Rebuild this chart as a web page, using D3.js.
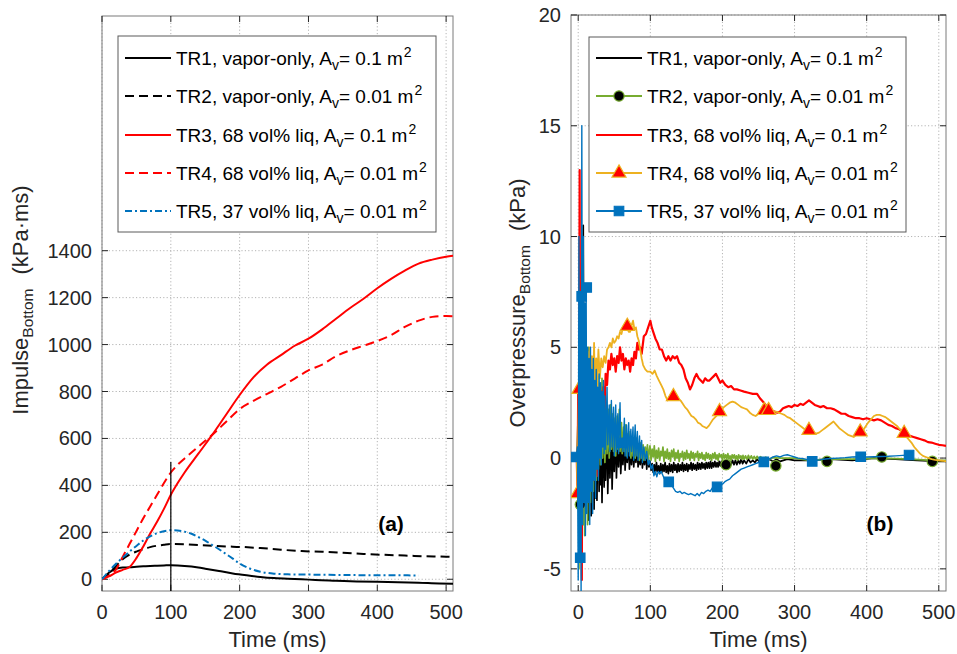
<!DOCTYPE html>
<html>
<head>
<meta charset="utf-8">
<script src="https://cdn.jsdelivr.net/npm/d3@7"></script>
<style>
  body { margin: 0; background: #fff; }
  text { font-family: "Liberation Sans", Arial, Helvetica, sans-serif; }
</style>
</head>
<body>
<svg id="fig" width="957" height="654"></svg>
<script>
// ---------- panel (a): impulse, kPa*ms ----------
const tr1T = [0,10,20,30,40,50,60,70,80,90,100,110,120,130,140,150,170,190,210,230,250,270,290,310,340,370,400,430,460,490,510]
const tr1V = [0,28,45,50,51,53,55,57,58,59,60,59,57,54,50,45,35,25,17,10,5,2,0,-3,-6,-9,-11,-13,-15,-18,-19]

const tr2T = [0,10,20,30,40,50,60,70,80,90,100,120,140,160,180,200,230,260,290,320,350,380,410,440,470,500,510]
const tr2V = [0,25,55,85,105,118,128,137,143,147,150,149,146,143,140,138,133,126,120,117,113,108,104,101,98,96,95]

const tr3T = [0,10,20,30,40,50,60,70,80,90,100,110,120,140,160,180,200,220,240,260,280,300,320,340,360,380,400,420,440,460,480,500,510]
const tr3V = [0,12,28,40,52,90,140,195,245,300,360,410,455,535,615,700,785,860,915,955,995,1025,1065,1110,1155,1195,1240,1280,1315,1345,1362,1374,1378]

const tr4T = [0,10,20,30,40,50,60,70,80,90,100,110,120,130,140,150,160,180,200,220,240,260,280,300,320,340,360,380,400,420,440,460,480,500,510]
const tr4V = [0,15,40,95,150,205,260,310,360,410,455,488,515,540,565,590,615,670,725,760,790,820,855,890,915,950,975,995,1015,1040,1075,1102,1118,1122,1121]

const tr5T = [0,10,20,30,40,50,60,70,80,90,100,110,120,130,140,150,160,170,180,190,200,210,220,230,240,250,270,300,330,360,400,430,460]
const tr5V = [0,35,65,92,118,142,165,183,196,205,209,208,203,194,180,165,146,128,108,88,67,52,40,32,27,24,21,20,19,18,17,17,16]

// thin marker line at t = 100 ms
const refT = [100, 100]
const refV = [-50, 500]

const impXTicks = [0,100,200,300,400,500]
const impYTicks = [0,200,400,600,800,1000,1200,1400]

// ---------- panel (b): overpressure, kPa  [t ms, p kPa] ----------
const op1Early = [[-10,0],[-2,0],[0,-1],[1,4],[2,-4],[3,6],[4,-3],[5,9],[6,-2],[7,10.5],[8,-1.5],[9,6],[10,-2.5],[11,5],[12,-1],[13,4],[14,-2.8],[15,3.5],[16,-2],[17,3],[18,-2.6],[19,2.5],[20,-1.5],[21,3],[22,-2.3],[23,2.2],[24,-1.8],[25,2.5],[26,-1.9],[27,1.2],[28,2],[29,-1.5],[30,2.6],[31,-1.2],[32,1.6],[33,-2],[34,0.4],[35,1.5],[36,-1.3],[37,1.8],[38,-1.0],[39,0.6],[40,2.0],[41,-1.6],[42,0.2],[43,1.4],[44,-0.9],[45,0.5],[46,1.2],[47,-1.4],[48,0.1],[49,1.0],[50,-0.6],[51,0.4],[52,1.3],[53,-0.9],[54,0.2],[55,0.9],[56,-0.4],[57,0.5],[58,1.0],[59,-0.7],[60,0.1],[61,0.8],[62,-0.3],[63,0.3],[64,1.1],[65,-0.55],[66,0.1],[67,0.7],[68,-0.2],[69,0.2],[70,0.9],[71,-0.5],[72,0],[73,0.5],[74,-0.3],[75,0.2],[76,0.7],[77,-0.4],[78,0.1],[79,0.4],[80,-0.2],[81,0.1],[82,0.5],[83,-0.4],[84,-0.1],[85,0.3],[86,-0.3],[87,0],[88,0.35],[89,-0.45],[90,-0.1],[91,0.2],[92,-0.3],[93,0],[94,0.25],[95,-0.5],[96,-0.1],[97,0.1],[98,-0.4]]
const op1Mid = [[99.5,-0.15],[101,-0.55],[102.5,-0.25],[104,-0.65],[105.5,-0.3],[107,-0.7],[108.5,-0.2],[110,-0.6],[111.5,-0.35],[113,-0.7],[114.5,-0.25],[116,-0.65],[117.5,-0.3],[119,-0.6],[120.5,-0.2],[122,-0.65],[123.5,-0.35],[125,-0.7],[126.5,-0.25],[128,-0.6],[129.5,-0.3],[131,-0.65],[132.5,-0.2],[134,-0.55],[135.5,-0.3],[137,-0.65],[138.5,-0.25],[140,-0.6],[141.5,-0.3],[143,-0.55],[144.5,-0.2],[146,-0.6],[147.5,-0.3],[149,-0.55],[150.5,-0.25],[152,-0.6],[153.5,-0.3],[155,-0.5],[156.5,-0.2],[158,-0.55],[159.5,-0.25],[161,-0.5],[162.5,-0.3],[164,-0.55],[165.5,-0.2],[167,-0.5],[168.5,-0.25],[170,-0.5],[171.5,-0.2],[173,-0.45],[174.5,-0.25],[176,-0.5],[177.5,-0.2],[179,-0.45],[180.5,-0.2],[182,-0.45],[183.5,-0.15],[185,-0.45],[186.5,-0.2],[188,-0.4],[189.5,-0.15],[191,-0.4],[192.5,-0.2],[194,-0.4],[195.5,-0.15],[197,-0.35],[198.5,-0.15],[200,-0.4],[202,-0.15],[204,-0.35],[206,-0.1],[208,-0.35],[210,-0.15],[212,-0.3],[214,-0.1],[216,-0.3],[218,-0.1],[220,-0.3],[222,-0.1],[224,-0.25],[226,-0.05],[228,-0.25],[230,-0.1],[233,-0.25],[236,-0.05],[239,-0.2],[242,-0.1],[245,-0.2],[248,-0.05]]
const op1Late = [[252,-0.2],[256,-0.05],[260,-0.2],[265,-0.05],[270,-0.15],[275,-0.05],[280,-0.15],[290,-0.05],[300,-0.1],[320,-0.1],[350,-0.05],[380,-0.1],[410,0],[440,-0.05],[470,-0.1],[500,-0.15],[510,-0.15]]
const op1 = op1Early.concat(op1Mid, op1Late)

const op2Early = [[-10,0],[-2,0],[0,2],[1,-5],[2,5],[3,-2],[4,8],[5,-4],[6,9],[7,-3],[8,6],[9,-3.5],[10,5.5],[11,-2],[12,4],[13,-3],[14,5],[15,-1.5],[16,4.5],[17,-2],[18,3.5],[19,-1],[20,4],[21,-1.5],[22,3],[23,-0.8],[24,3.5],[25,-1],[26,1.5],[27,3.7],[28,-0.5],[29,1.2],[30,3],[31,-0.3],[32,1.4],[33,3.6],[34,0],[35,1.1],[36,2.8],[37,-0.2],[38,1.2],[39,2.5],[40,0.2],[41,1.0],[42,2.2],[43,0],[44,1.1],[45,2.4],[46,0.4],[47,1.2],[48,2],[49,0.3],[50,0.9],[51,1.8],[52,0.1],[53,1.0],[54,1.9],[55,0.4],[56,1.1],[57,2.2],[58,0.3],[59,0.9],[60,1.6],[61,0.2],[62,0.7],[63,1.4],[64,0.3],[65,0.8],[66,1.5],[67,0.1],[68,0.6],[69,1.1],[70,0.3],[71,0.6],[72,1.2],[73,0],[74,0.5],[75,0.9],[76,0.1],[77,0.4],[78,0.8],[79,0],[80,0.5],[81,0.9],[82,0.1],[83,0.3],[84,0.6],[85,-0.1],[86,0.3],[87,0.7],[88,0],[89,0.2],[90,0.6],[91,-0.1],[92,0.2],[93,0.5],[94,0],[95,0.3],[96,0.6],[97,-0.1],[98,0.2]]
const op2Mid = [[99.5,0.55],[101,-0.1],[102.5,0.4],[104,0.05],[105.5,0.55],[107,-0.15],[108.5,0.35],[110,0],[111.5,0.45],[113,-0.1],[114.5,0.3],[116,0.1],[117.5,0.5],[119,-0.15],[120.5,0.3],[122,0],[123.5,0.4],[125,-0.05],[126.5,0.25],[128,-0.15],[129.5,0.35],[131,0.05],[132.5,0.4],[134,-0.1],[135.5,0.25],[137,0],[138.5,0.35],[140,-0.15],[141.5,0.2],[143,0.05],[144.5,0.3],[146,-0.1],[147.5,0.25],[149,-0.05],[150.5,0.35],[152,0],[153.5,0.2],[155,-0.1],[156.5,0.3],[158,0],[159.5,0.25],[161,-0.1],[162.5,0.2],[164,0.05],[165.5,0.3],[167,-0.1],[168.5,0.2],[170,0],[171.5,0.25],[173,-0.05],[174.5,0.15],[176,-0.1],[177.5,0.25],[179,0],[180.5,0.2],[182,-0.05],[183.5,0.15],[185,-0.1],[186.5,0.2],[188,0],[189.5,0.25],[191,-0.05],[192.5,0.15],[194,-0.1],[195.5,0.2],[197,0.05],[198.5,0.15],[200,-0.1],[201.5,0.2],[203,0],[204.5,0.15],[206,-0.05],[207.5,0.2],[209,-0.05],[210.5,0.1],[212,-0.1],[213.5,0.15],[215,0],[216.5,0.15],[218,-0.05],[219.5,0.1],[221,-0.1],[222.5,0.15],[224,0],[225.5,0.1],[227,-0.05],[228.5,0.12],[230,-0.05],[232,0.1],[234,-0.05],[236,0.12],[238,-0.03],[240,0.1],[242,-0.05],[244,0.08],[246,-0.05],[248,0.08]]
const op2Late = [[250,-0.03],[253,0.06],[256,-0.04],[260,0.04],[265,-0.05],[270,0.02],[280,0],[300,0],[320,-0.1],[350,-0.05],[380,-0.05],[420,0],[460,-0.05],[490,-0.1],[510,-0.1]]
const op2 = op2Early.concat(op2Mid, op2Late)
const op2Marks = [[3,-2.1],[205,-0.3],[274,-0.35],[345,-0.15],[421,0.05],[491,-0.15]]

const op3 = [[-10,0],[-2,0],[-1,-1.5],[0,3],[1,-2],[2,13],[3,-4.5],[4,5],[5,-5.5],[6,7.5],[7,-1],[8,4],[9,-1.5],[10,4.5],[11,0],[12,3],[14,-1],[15,4],[16,0],[18,3.5],[19,-0.5],[20,2.5],[21,-1],[23,3],[24,0],[26,2.8],[27,-0.8],[29,2.5],[30,0.5],[32,3],[33,0.8],[35,3.2],[36,1.5],[38,3.8],[40,3.3],[42,4.4],[44,4.0],[46,4.7],[48,4.2],[50,4.5],[52,3.9],[54,4.6],[56,4.3],[58,5.0],[60,4.4],[62,4.7],[64,4.0],[66,4.5],[68,4.2],[70,4.4],[72,3.9],[74,4.5],[76,4.2],[78,4.8],[80,4.5],[82,5.2],[84,4.9],[86,5.0],[88,4.7],[91,5.5],[94,5.6],[97,5.9],[100,6.2],[102,5.9],[104,5.7],[107,5.4],[110,5.2],[113,4.9],[116,4.9],[119,4.6],[122,4.4],[125,4.6],[128,4.4],[131,4.6],[134,4.5],[137,4.6],[140,4.3],[143,4.2],[146,4.0],[149,3.6],[152,3.4],[155,3.1],[158,3.3],[161,3.6],[164,3.8],[167,3.6],[170,3.5],[173,3.4],[176,3.6],[179,3.5],[182,3.5],[185,3.6],[188,3.7],[191,3.8],[194,3.6],[197,3.4],[200,3.5],[204,3.3],[208,3.2],[212,3.25],[216,3.1],[220,3.1],[225,3.05],[230,3.0],[236,2.95],[242,2.9],[248,2.9],[252,2.7],[256,2.55],[260,2.4],[264,2.2],[268,2.15],[272,2.1],[276,2.05],[280,2.1],[284,2.25],[288,2.3],[292,2.35],[296,2.3],[300,2.4],[304,2.35],[308,2.45],[312,2.4],[316,2.5],[320,2.6],[324,2.5],[328,2.4],[332,2.35],[336,2.3],[340,2.35],[345,2.25],[350,2.25],[355,2.2],[360,2.1],[365,2.0],[370,2.0],[375,1.9],[380,1.85],[385,1.8],[390,1.8],[395,1.75],[400,1.8],[405,1.75],[410,1.7],[415,1.75],[420,1.7],[425,1.6],[430,1.5],[435,1.45],[440,1.35],[445,1.3],[450,1.2],[455,1.1],[460,1.0],[465,0.95],[470,0.9],[475,0.85],[480,0.8],[485,0.72],[490,0.7],[495,0.65],[500,0.6],[505,0.58],[510,0.55]]

const op4 = [[-10,0],[-2,0],[-1,-1.6],[0,1],[1,3.1],[2,-1],[3,5],[4,0],[5,6],[6,-0.5],[7,4.5],[8,0.5],[10,5],[11,1],[13,4.8],[14,1.5],[16,5],[17,2],[19,4.6],[20,2.2],[22,5.2],[23,3],[25,4.5],[26,3],[28,4.9],[30,3.6],[32,4.5],[34,4.1],[36,4.6],[38,4.3],[40,4.9],[42,5.0],[44,5.2],[46,5.0],[48,5.4],[50,5.2],[52,5.3],[54,5.5],[56,5.4],[58,5.7],[60,5.6],[62,5.9],[64,5.8],[66,6.1],[68,5.9],[70,5.7],[72,5.7],[74,6.0],[76,6.2],[78,5.8],[80,5.9],[82,5.5],[84,5.3],[86,4.9],[88,4.5],[90,4.2],[93,4.0],[96,3.9],[100,3.9],[103,3.8],[106,3.95],[109,3.7],[112,3.5],[115,3.3],[118,3.1],[121,2.8],[124,2.6],[127,2.7],[130,2.8],[133,2.8],[136,2.7],[139,2.65],[142,2.6],[145,2.45],[148,2.3],[151,2.2],[154,2.05],[157,1.9],[160,1.85],[163,1.75],[166,1.6],[169,1.55],[172,1.45],[175,1.4],[178,1.35],[181,1.45],[184,1.6],[187,1.75],[190,1.85],[193,1.95],[196,2.1],[199,2.2],[202,2.3],[206,2.4],[210,2.5],[214,2.55],[218,2.5],[222,2.4],[226,2.3],[230,2.25],[234,2.2],[238,2.05],[242,1.95],[246,1.9],[250,2.0],[254,2.1],[258,2.15],[262,2.15],[266,2.15],[270,2.1],[274,2.1],[278,2.05],[282,2.0],[286,1.95],[290,1.85],[294,1.8],[298,1.7],[302,1.6],[306,1.5],[310,1.4],[314,1.3],[318,1.25],[322,1.2],[326,1.15],[330,1.1],[334,1.15],[338,1.25],[342,1.35],[346,1.45],[350,1.55],[354,1.65],[358,1.5],[362,1.35],[366,1.25],[370,1.15],[374,1.05],[378,1.0],[382,0.95],[386,1.05],[390,1.15],[394,1.2],[398,1.4],[402,1.6],[406,1.75],[410,1.9],[414,1.95],[418,1.95],[422,1.9],[426,1.85],[430,1.75],[434,1.65],[438,1.55],[442,1.45],[446,1.3],[450,1.15],[454,1.0],[458,0.85],[462,0.7],[466,0.5],[470,0.35],[474,0.2],[478,0.1],[482,0.05],[486,0],[490,-0.05],[495,-0.08],[500,-0.1],[505,-0.12],[510,-0.15]]
const op4Marks = [[-1,-1.6],[1,3.1],[68,5.95],[132,2.78],[196,2.1],[258,2.15],[264,2.15],[320,1.25],[391,1.18],[452,1.12]]

const op5 = [[-10,0],[-3,0],[-1,0.5],[0,-5.5],[1,10],[2,-4.5],[3,7.3],[4,-6],[5,15],[6,-3],[7,10],[8,-2],[9,7],[10,-3.5],[11,7.7],[12,-2.5],[13,5],[14,-2],[15,4.5],[16,-3],[17,5],[18,-1.5],[19,4],[20,-2.5],[21,4.5],[22,-1],[23,3.5],[24,-1.8],[25,4],[26,-0.5],[27,3.2],[28,-1],[29,3.8],[30,0],[31,3.4],[32,-0.3],[33,3],[34,0.5],[35,3.5],[36,0.2],[37,2.8],[38,0.4],[40,3.2],[41,0.6],[43,2.4],[44,0.3],[46,2.6],[47,0.5],[49,2.3],[50,0.1],[52,2.4],[53,0.3],[55,2.0],[56,0.2],[58,2.5],[59,0.5],[61,0.9],[62,0.3],[64,1.8],[65,0.1],[67,1.5],[68,0],[70,1.6],[71,0.1],[73,1.3],[74,0.3],[76,1.4],[77,-0.1],[79,1.5],[80,0.1],[82,1.2],[83,-0.1],[85,1.0],[86,0],[88,0.8],[89,-0.2],[91,0.5],[93,-0.1],[95,0.3],[97,-0.3],[99,-0.1],[101,-0.5],[103,-0.3],[105,-0.8],[107,-0.6],[109,-0.85],[111,-0.6],[113,-0.7],[115,-0.6],[117,-0.75],[119,-0.9],[121,-1.0],[123,-1.0],[125,-1.1],[127,-1.15],[129,-1.1],[131,-1.3],[133,-1.4],[135,-1.5],[138,-1.55],[141,-1.5],[144,-1.6],[147,-1.55],[150,-1.6],[153,-1.65],[156,-1.6],[159,-1.65],[162,-1.7],[165,-1.6],[168,-1.7],[171,-1.55],[174,-1.6],[177,-1.5],[180,-1.45],[183,-1.5],[186,-1.35],[189,-1.3],[192,-1.3],[195,-1.25],[198,-1.2],[201,-1.15],[204,-1.05],[207,-1.0],[210,-0.95],[214,-0.8],[218,-0.7],[222,-0.6],[226,-0.5],[230,-0.45],[234,-0.4],[238,-0.35],[242,-0.3],[246,-0.25],[250,-0.2],[255,-0.15],[260,-0.1],[265,-0.05],[270,0.05],[275,0.1],[280,0.05],[285,0.12],[290,0.15],[295,0.1],[300,0.05],[305,0],[310,-0.02],[315,-0.05],[320,-0.1],[325,-0.15],[330,-0.1],[335,-0.08],[340,-0.05],[350,-0.02],[360,0],[370,0.02],[380,0.05],[390,0.06],[400,0.05],[410,0.06],[420,0.07],[430,0.08],[440,0.1],[450,0.12],[458,0.14]]
const op5Marks = [[-8.5,0.05],[2.8,-4.5],[4.8,7.3],[11.8,7.7],[61,0.68],[125.5,-1.07],[192.6,-1.3],[257.4,-0.17],[324.5,-0.15],[391.7,0.06],[458.8,0.14]]

const opXTicks = [0,100,200,300,400,500]
const opYTicks = [-5,0,5,10,15,20]

// legend texts: [main, subscript, rest, superscript]
const legendA = [
  ["TR1, vapor-only, A", "v", "= 0.1 m", "2"],
  ["TR2, vapor-only, A", "v", "= 0.01 m", "2"],
  ["TR3, 68 vol% liq, A", "v", "= 0.1 m", "2"],
  ["TR4, 68 vol% liq, A", "v", "= 0.01 m", "2"],
  ["TR5, 37 vol% liq, A", "v", "= 0.01 m", "2"]
]

// MATLAB-ish colours
const cBlack = "#000000", cGreen = "#77AC30", cRed = "#FF0000", cOrange = "#EDB120", cBlue = "#0072BD"

const svg = d3.select("#fig")

// draws grid + box + ticks + labels for one panel
function makeAxes(x, y, xt, yt, id) {
  const [x0, x1] = x.range()
  const [y0, y1] = y.range()   // y0 bottom, y1 top
  const g = svg.append("g")

  g.append("clipPath").attr("id", id).append("rect")
    .attr("x", x0).attr("y", y1).attr("width", x1 - x0).attr("height", y0 - y1)

  // dotted grid
  g.selectAll(".gx").data(xt).enter().append("line")
    .attr("x1", d => x(d)).attr("x2", d => x(d)).attr("y1", y1).attr("y2", y0)
    .attr("stroke", "#b4b4b4").attr("stroke-dasharray", "1.2,2.2").attr("stroke-width", 1)
  g.selectAll(".gy").data(yt).enter().append("line")
    .attr("y1", d => y(d)).attr("y2", d => y(d)).attr("x1", x0).attr("x2", x1)
    .attr("stroke", "#b4b4b4").attr("stroke-dasharray", "1.2,2.2").attr("stroke-width", 1)

  // box
  g.append("rect").attr("x", x0).attr("y", y1).attr("width", x1 - x0).attr("height", y0 - y1)
    .attr("fill", "none").attr("stroke", "#7a7a7a").attr("stroke-width", 1)

  const tl = 6
  xt.forEach(v => {
    g.append("line").attr("x1", x(v)).attr("x2", x(v)).attr("y1", y0).attr("y2", y0 - tl).attr("stroke", "#262626")
    g.append("line").attr("x1", x(v)).attr("x2", x(v)).attr("y1", y1).attr("y2", y1 + tl).attr("stroke", "#262626")
    g.append("text").attr("x", x(v)).attr("y", 612).attr("text-anchor", "middle")
      .attr("dominant-baseline", "central").attr("font-size", 20).attr("fill", "#262626").text(String(v))
  })
  yt.forEach(v => {
    g.append("line").attr("y1", y(v)).attr("y2", y(v)).attr("x1", x0).attr("x2", x0 + tl).attr("stroke", "#262626")
    g.append("line").attr("y1", y(v)).attr("y2", y(v)).attr("x1", x1).attr("x2", x1 - tl).attr("stroke", "#262626")
    g.append("text").attr("x", x0 - 10).attr("y", y(v)).attr("text-anchor", "end")
      .attr("dominant-baseline", "central").attr("font-size", 20).attr("fill", "#262626").text(String(v))
  })

  g.append("text").attr("x", (x0 + x1) / 2).attr("y", 639).attr("text-anchor", "middle")
    .attr("dominant-baseline", "central").attr("font-size", 22).attr("fill", "#262626").text("Time (ms)")
  return g
}

function yLabel(cx, cy, main, unit) {
  const t = svg.append("text")
    .attr("transform", `translate(${cx},${cy}) rotate(-90)`)
    .attr("text-anchor", "middle").attr("font-size", 22).attr("fill", "#262626")
  t.append("tspan").text(main)
  t.append("tspan").attr("font-size", 15.5).attr("dy", 5).text("Bottom")
  t.append("tspan").attr("dy", -5).attr("dx", 14).text(unit)
}

// ---------- panel (a) ----------
const xA = d3.scaleLinear().domain([0, 510]).range([102, 453])
const yA = d3.scaleLinear().domain([-50, 2400]).range([591, 16])
makeAxes(xA, yA, impXTicks, impYTicks, "clipA")
yLabel(28, 300, "Impulse", "(kPa\u00B7ms)")

const lineA = d3.line().x(d => xA(d[0])).y(d => yA(d[1])).curve(d3.curveMonotoneX)
const gA = svg.append("g").attr("clip-path", "url(#clipA)")
const seriesA = [
  { t: tr1T, v: tr1V, c: cBlack, dash: null, w: 2 },
  { t: tr2T, v: tr2V, c: cBlack, dash: "9,5", w: 2 },
  { t: tr3T, v: tr3V, c: cRed, dash: null, w: 2 },
  { t: tr4T, v: tr4V, c: cRed, dash: "9,5", w: 2 },
  { t: tr5T, v: tr5V, c: cBlue, dash: "7,3,2,3", w: 2 }
]
seriesA.forEach(s => {
  gA.append("path").datum(d3.zip(s.t, s.v)).attr("d", lineA)
    .attr("fill", "none").attr("stroke", s.c).attr("stroke-width", s.w)
    .attr("stroke-dasharray", s.dash)
})
gA.append("line").attr("x1", xA(refT[0])).attr("x2", xA(refT[1]))
  .attr("y1", yA(refV[0])).attr("y2", yA(refV[1])).attr("stroke", "#000").attr("stroke-width", 1.2)

svg.append("text").attr("x", 391).attr("y", 523).attr("text-anchor", "middle")
  .attr("dominant-baseline", "central").attr("font-size", 21).attr("font-weight", "bold").text("(a)")

// ---------- panel (b) ----------
const xB = d3.scaleLinear().domain([-10, 510]).range([571, 946])
const yB = d3.scaleLinear().domain([-6, 20]).range([591, 15])
makeAxes(xB, yB, opXTicks, opYTicks, "clipB")
yLabel(525, 303, "Overpressure", "(kPa)")

const lineB = d3.line().x(d => xB(d[0])).y(d => yB(d[1]))
const gB = svg.append("g").attr("clip-path", "url(#clipB)")

const symTri = d3.symbol(d3.symbolTriangle, 85)
const symCir = d3.symbol(d3.symbolCircle, 85)
const symSq = d3.symbol(d3.symbolSquare, 90)

const seriesB = [
  { d: op1, c: cBlack, w: 1.7 },
  { d: op2, c: cGreen, w: 1.7, marks: op2Marks, sym: symCir, fill: "#000", edge: cGreen },
  { d: op3, c: cRed, w: 2.2 },
  { d: op4, c: cOrange, w: 1.8, marks: op4Marks, sym: symTri, fill: cRed, edge: cOrange },
  { d: op5, c: cBlue, w: 1.4, marks: op5Marks, sym: symSq, fill: cBlue, edge: cBlue }
]
seriesB.forEach(s => {
  gB.append("path").datum(s.d).attr("d", lineB)
    .attr("fill", "none").attr("stroke", s.c).attr("stroke-width", s.w).attr("stroke-linejoin", "round")
  if (s.marks) {
    gB.selectAll(null).data(s.marks).enter().append("path")
      .attr("d", s.sym)
      .attr("transform", d => `translate(${xB(d[0])},${yB(d[1])})`)
      .attr("fill", s.fill).attr("stroke", s.edge).attr("stroke-width", 1.2)
  }
})

svg.append("text").attr("x", 880).attr("y", 523).attr("text-anchor", "middle")
  .attr("dominant-baseline", "central").attr("font-size", 21).attr("font-weight", "bold").text("(b)")

// ---------- legends ----------
function legend(bx, by, bw, bh, series, withMarks) {
  const g = svg.append("g")
  g.append("rect").attr("x", bx).attr("y", by).attr("width", bw).attr("height", bh)
    .attr("fill", "#fff").attr("stroke", "#5a5a5a").attr("stroke-width", 1)
  const rowY = [58, 96, 135, 173, 211]
  series.forEach((s, i) => {
    const yy = rowY[i]
    const lx0 = bx + 7, lx1 = bx + 53
    g.append("line").attr("x1", lx0).attr("x2", lx1).attr("y1", yy).attr("y2", yy)
      .attr("stroke", s.c).attr("stroke-width", withMarks ? 2 : s.w)
      .attr("stroke-dasharray", withMarks ? null : s.dash)
    if (withMarks && s.marks) {
      g.append("path").attr("d", s.sym).attr("transform", `translate(${(lx0 + lx1) / 2},${yy})`)
        .attr("fill", s.fill).attr("stroke", s.edge).attr("stroke-width", 1.2)
    }
    const lab = legendA[i]
    const t = g.append("text").attr("x", bx + 58).attr("y", yy + 7).attr("font-size", 19).attr("fill", "#000")
    t.append("tspan").text(lab[0])
    t.append("tspan").attr("font-size", 14).attr("dy", 5).text(lab[1])
    t.append("tspan").attr("dy", -5).text(lab[2])
    t.append("tspan").attr("font-size", 14).attr("dy", -8).attr("dx", 1).text(lab[3])
  })
}
legend(118, 36, 318, 196, seriesA, false)
legend(589, 37, 317, 195, seriesB, true)
</script>
</body>
</html>
